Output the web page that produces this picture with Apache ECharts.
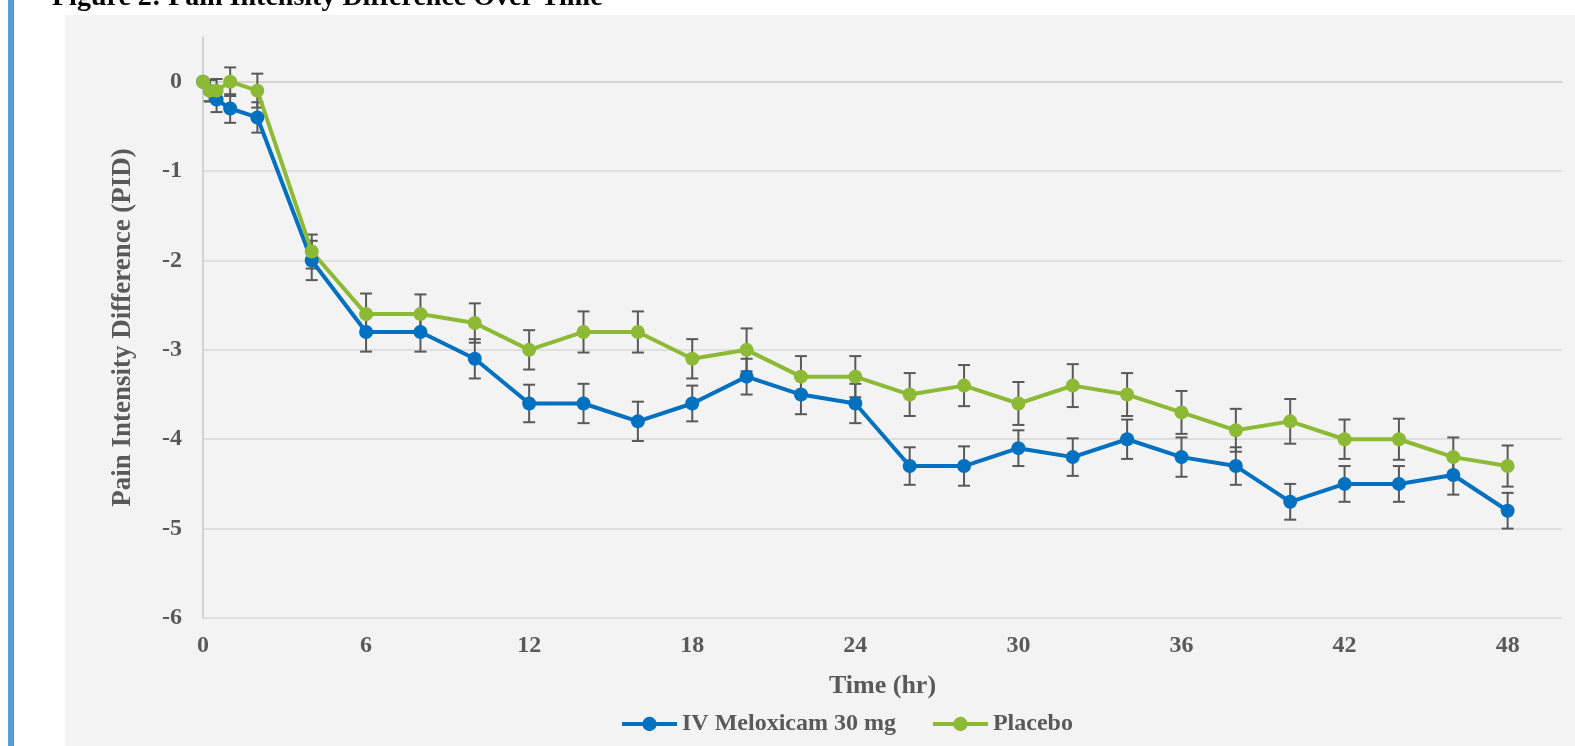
<!DOCTYPE html>
<html>
<head>
<meta charset="utf-8">
<script src="https://cdn.jsdelivr.net/npm/echarts@6/dist/echarts.min.js"></script>
<style>
  html, body { margin: 0; padding: 0; background: #ffffff; }
  #chart { width: 1575px; height: 746px; }
</style>
</head>
<body>
<div id="chart"></div>
<script>
// Time points (hours after dosing)
const hours = [0, 0.25, 0.5, 1, 2, 4, 6, 8, 10, 12, 14, 16, 18, 20, 22, 24, 26, 28, 30, 32, 34, 36, 38, 40, 42, 44, 46, 48];

// Mean pain intensity difference and standard error, IV meloxicam 30 mg
const meloxicamPID = [0, -0.1, -0.2, -0.3, -0.4, -2.0, -2.8, -2.8, -3.1, -3.6, -3.6, -3.8, -3.6, -3.3, -3.5, -3.6, -4.3, -4.3, -4.1, -4.2, -4.0, -4.2, -4.3, -4.7, -4.5, -4.5, -4.4, -4.8];
const meloxicamSE  = [0, 0.12, 0.14, 0.16, 0.17, 0.22, 0.22, 0.22, 0.22, 0.21, 0.22, 0.22, 0.2, 0.2, 0.22, 0.22, 0.21, 0.22, 0.2, 0.21, 0.22, 0.22, 0.21, 0.2, 0.2, 0.2, 0.22, 0.2];

// Mean pain intensity difference and standard error, placebo
const placeboPID = [0, -0.1, -0.1, 0, -0.1, -1.9, -2.6, -2.6, -2.7, -3.0, -2.8, -2.8, -3.1, -3.0, -3.3, -3.3, -3.5, -3.4, -3.6, -3.4, -3.5, -3.7, -3.9, -3.8, -4.0, -4.0, -4.2, -4.3];
const placeboSE  = [0, 0.12, 0.13, 0.16, 0.19, 0.19, 0.23, 0.22, 0.22, 0.22, 0.23, 0.23, 0.22, 0.24, 0.23, 0.23, 0.24, 0.23, 0.24, 0.24, 0.24, 0.24, 0.24, 0.25, 0.22, 0.23, 0.22, 0.23];

// Axis settings
const xTickStep = 6;
const yTickStep = 1;

const serifFont = '"Liberation Serif", "Times New Roman", serif';
const labelGrey = '#595959';

function pairs(xs, ys) {
  return xs.map((x, i) => [x, ys[i]]);
}

function errorRanges(xs, ys, se) {
  return xs.map((x, i) => [x, ys[i] - se[i], ys[i] + se[i], se[i]]);
}

// Vertical error bar with a cap at each end
function renderErrorBar(params, api) {
  if (api.value(3) <= 0) return null;
  const x = api.value(0);
  const lo = api.coord([x, api.value(1)]);
  const hi = api.coord([x, api.value(2)]);
  const half = 6;
  const style = { stroke: '#595959', lineWidth: 2 };
  return {
    type: 'group',
    children: [
      { type: 'line', shape: { x1: hi[0], y1: hi[1], x2: lo[0], y2: lo[1] }, style },
      { type: 'line', shape: { x1: hi[0] - half, y1: hi[1], x2: hi[0] + half, y2: hi[1] }, style },
      { type: 'line', shape: { x1: lo[0] - half, y1: lo[1], x2: lo[0] + half, y2: lo[1] }, style }
    ]
  };
}

const chart = echarts.init(document.getElementById('chart'), null, { renderer: 'canvas' });

chart.setOption({
  backgroundColor: '#ffffff',
  animation: false,
  graphic: [
    { type: 'rect', z: -10, shape: { x: 8, y: 0, width: 6, height: 746 }, style: { fill: '#5b9bd5' } },
    { type: 'rect', z: -10, shape: { x: 65, y: 15, width: 1510, height: 731 }, style: { fill: '#f3f3f3' } },
    {
      type: 'text', z: -5, left: 52, top: -16,
      style: {
        text: 'Figure 2: Pain Intensity Difference Over Time',
        fill: '#000000',
        font: 'bold 28px ' + serifFont
      }
    }
  ],
  grid: { left: 203, right: 13, top: 37, bottom: 128 },
  legend: {
    left: 615,
    top: 707,
    itemWidth: 55,
    itemHeight: 18,
    itemGap: 35,
    lineStyle: { width: 4 },
    data: ['IV Meloxicam 30 mg', 'Placebo'],
    textStyle: { color: labelGrey, fontFamily: serifFont, fontWeight: 'bold', fontSize: 24 }
  },
  xAxis: {
    type: 'value',
    min: 0,
    max: 50,
    interval: xTickStep,
    name: 'Time (hr)',
    nameLocation: 'middle',
    nameGap: 55,
    nameTextStyle: { color: labelGrey, fontFamily: serifFont, fontWeight: 'bold', fontSize: 26 },
    axisLine: { show: true, lineStyle: { color: '#d0d0d0', width: 1.5 } },
    axisTick: { show: false },
    splitLine: { show: false },
    axisLabel: {
      showMaxLabel: false,
      margin: 16,
      color: labelGrey,
      fontFamily: serifFont,
      fontWeight: 'bold',
      fontSize: 24,
      formatter: v => (v % xTickStep === 0 ? String(v) : '')
    }
  },
  yAxis: {
    type: 'value',
    min: -6,
    max: 0.5,
    interval: yTickStep,
    name: 'Pain Intensity Difference (PID)',
    nameLocation: 'middle',
    nameRotate: 90,
    nameGap: 66,
    nameTextStyle: { color: labelGrey, fontFamily: serifFont, fontWeight: 'bold', fontSize: 27 },
    axisLine: { show: true, lineStyle: { color: '#c8c8c8', width: 1.5 } },
    axisTick: { show: false },
    splitLine: { show: true, showMaxLine: false, lineStyle: { color: '#d9d9d9', width: 1.5 } },
    axisLabel: {
      showMaxLabel: false,
      margin: 21,
      color: labelGrey,
      fontFamily: serifFont,
      fontWeight: 'bold',
      fontSize: 24
    }
  },
  series: [
    {
      type: 'custom',
      z: 2,
      renderItem: renderErrorBar,
      encode: { x: 0, y: [1, 2] },
      data: errorRanges(hours, meloxicamPID, meloxicamSE),
      silent: true
    },
    {
      type: 'custom',
      z: 2,
      renderItem: renderErrorBar,
      encode: { x: 0, y: [1, 2] },
      data: errorRanges(hours, placeboPID, placeboSE),
      silent: true
    },
    {
      name: 'IV Meloxicam 30 mg',
      type: 'line',
      z: 3,
      data: pairs(hours, meloxicamPID),
      symbol: 'circle',
      symbolSize: 14,
      lineStyle: { color: '#0070c0', width: 4 },
      itemStyle: { color: '#0070c0' }
    },
    {
      name: 'Placebo',
      type: 'line',
      z: 3,
      data: pairs(hours, placeboPID),
      symbol: 'circle',
      symbolSize: 14,
      lineStyle: { color: '#8cba34', width: 4 },
      itemStyle: { color: '#8cba34' }
    }
  ]
});
</script>
</body>
</html>
